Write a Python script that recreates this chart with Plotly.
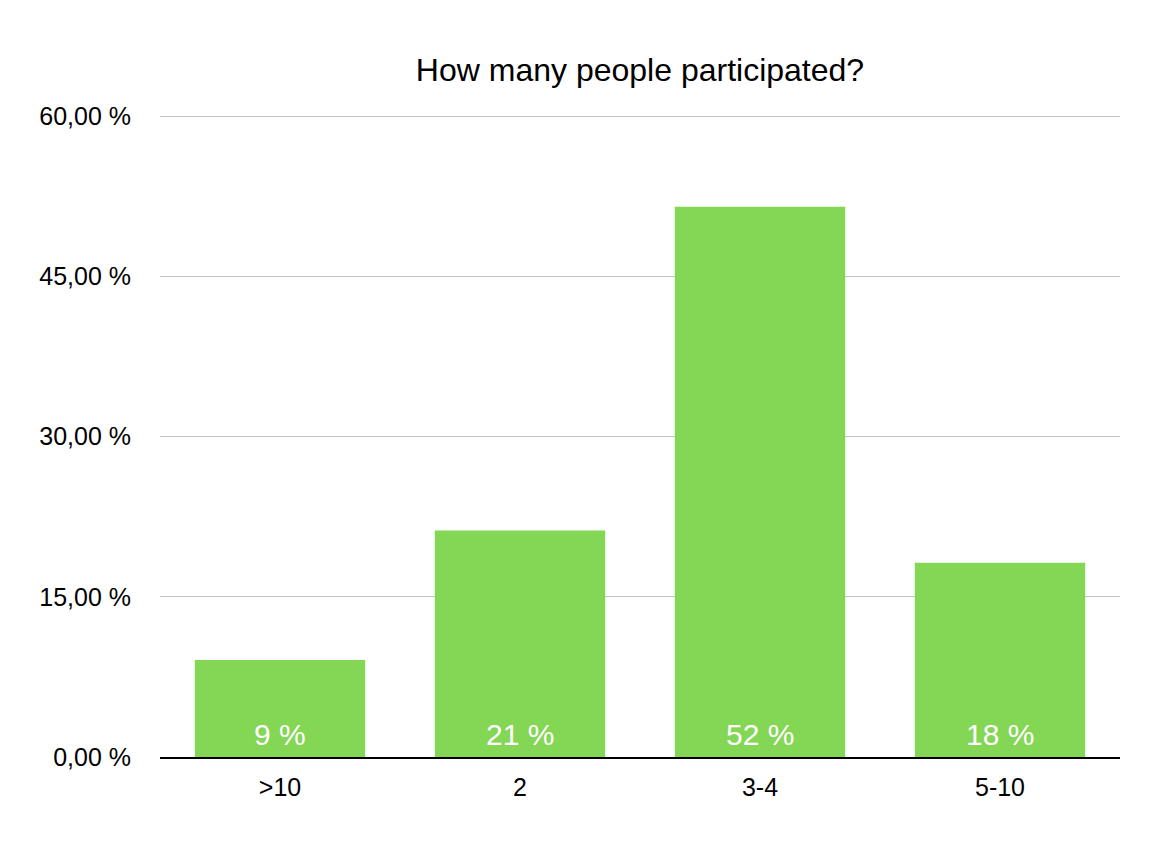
import plotly.graph_objects as go

# answers (share of respondents, %)
categories = [">10", "2", "3-4", "5-10"]
shares = [9.09, 21.21, 51.52, 18.18]
y_ticks = [0, 15, 30, 45, 60]
y_tick_text = [f"{v:.2f} %".replace(".", ",") for v in y_ticks]

BAR_GREEN = "#84d655"
FONT = "Liberation Sans, Arial, Helvetica, sans-serif"

fig = go.Figure()
fig.add_trace(
    go.Bar(x=categories, y=shares, marker=dict(color=BAR_GREEN, line=dict(width=0)),
           hoverinfo="x+y", showlegend=False)
)

# value labels sitting at the foot of each bar (x by index, "2" would be read as a position)
for i, val in enumerate(shares):
    fig.add_annotation(x=i, y=0, yanchor="bottom", yshift=4, showarrow=False,
                       text=f"{round(val)} %",
                       font=dict(family=FONT, size=30, color="white"))

# page body has an 8px margin, so the figure is a bit smaller than the window
fig.update_layout(
    width=1150, height=831,
    paper_bgcolor="white", plot_bgcolor="white",
    margin=dict(l=152, r=38, t=105, b=82),
    bargap=0.29,
    font=dict(family=FONT, size=25, color="black"),
    title=dict(text="How many people participated?", x=632 / 1150, xanchor="center",
               y=1 - 62 / 831, yanchor="middle", yref="container",
               font=dict(family=FONT, size=32, color="black")),
)

fig.update_xaxes(showline=True, linecolor="black", linewidth=2, showgrid=False,
                 ticks="", ticklabelstandoff=7, tickfont=dict(size=25))
# top gridline is dropped near the range edge, so leave a few px of room
fig.update_yaxes(range=[0, 60.3], tickvals=y_ticks, ticktext=y_tick_text,
                 showgrid=True, gridcolor="#c2c2c2", gridwidth=1, zeroline=False,
                 ticks="", ticklabelstandoff=28, tickfont=dict(size=25))

fig.write_html("out.html")
